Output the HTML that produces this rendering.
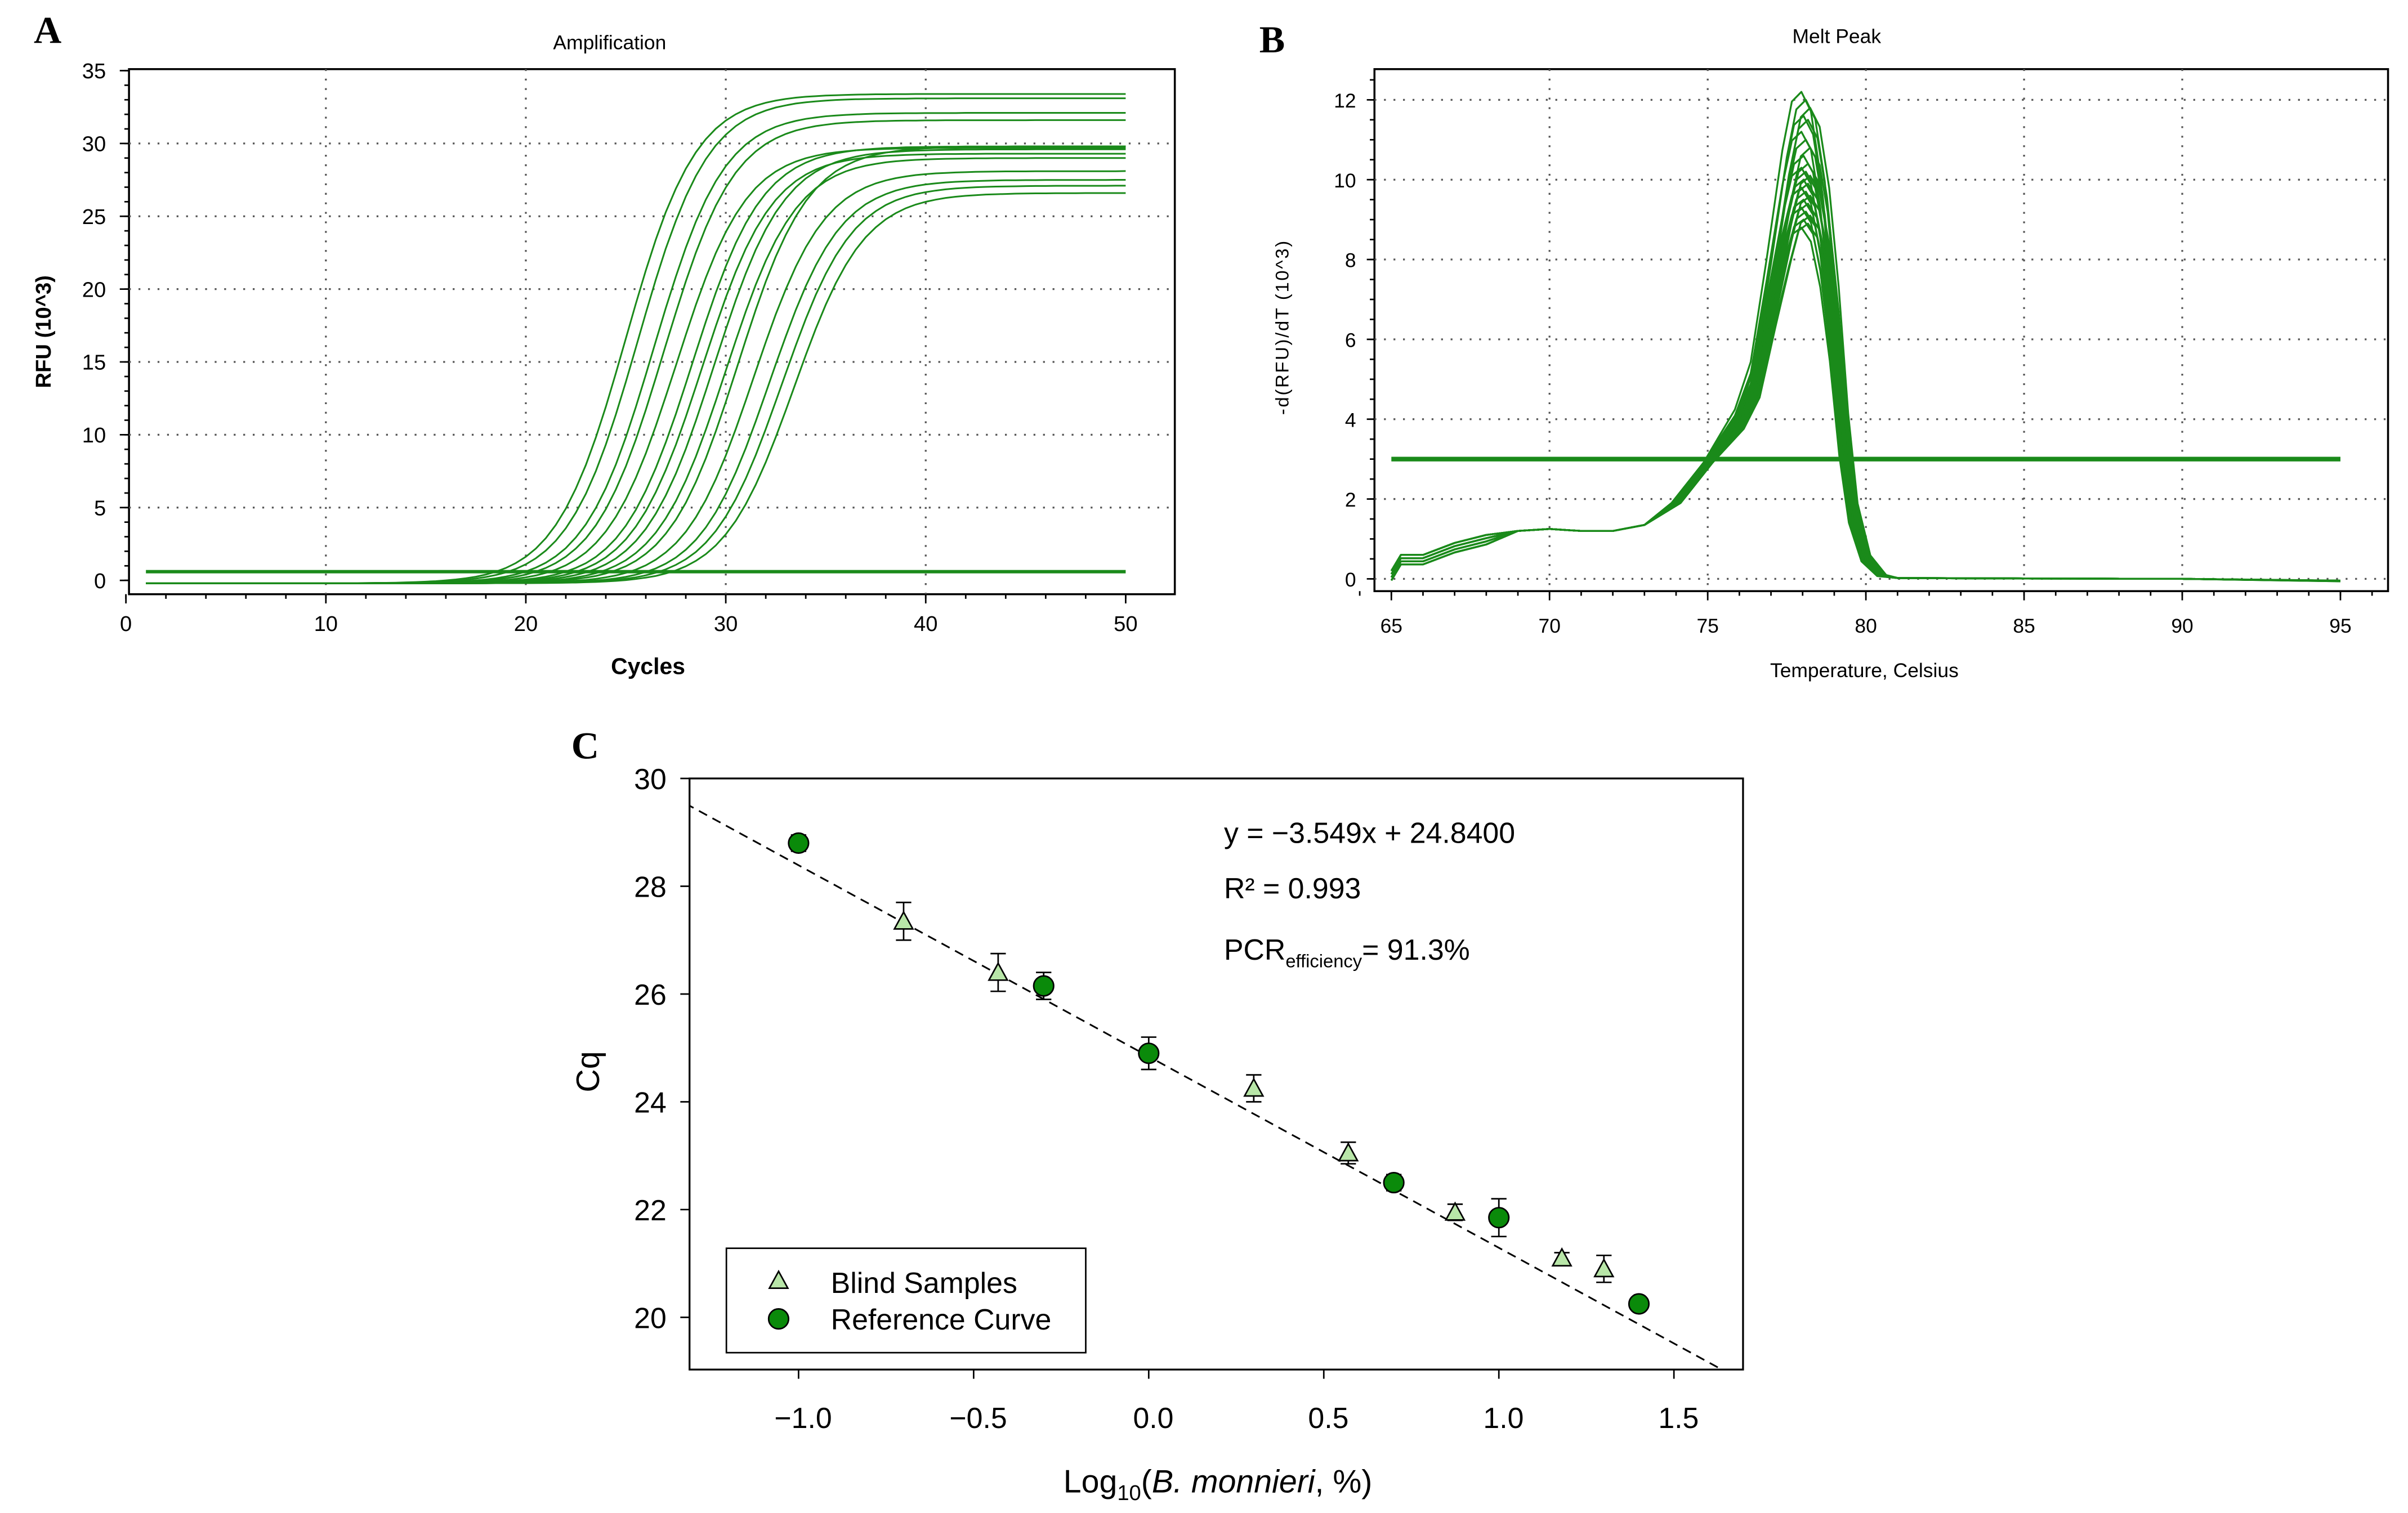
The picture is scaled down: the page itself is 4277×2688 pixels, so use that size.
<!DOCTYPE html>
<html><head><meta charset="utf-8"><style>html,body{margin:0;padding:0;background:#fff}svg{display:block}</style></head>
<body>
<svg id="fig" width="4277" height="2688" viewBox="0 0 1568 985.4" xmlns="http://www.w3.org/2000/svg" font-family="Liberation Sans, sans-serif">
<defs><clipPath id="cclip"><rect x="449" y="507" width="686" height="385"/></clipPath></defs>
<rect width="1568" height="985.4" fill="#fff"/>
<g id="pa"></g>
<g id="pb"></g>
<g id="pc"></g>
</svg>
<script>
// ---- Panel A data ----
const ampMid = [25.0,25.6,26.4,26.9,27.5,28.3,28.8,29.4,30.0,30.6,31.4,32.2,32.8,33.4];
const ampPlateau = [33.6,33.3,32.3,31.8,29.9,30.0,29.5,29.8,29.2,30.0,28.3,27.7,27.3,26.8];
const ampXTicks = [0,10,20,30,40,50];
const ampYTicks = [0,5,10,15,20,25,30,35];
// ---- Panel B data ----
const meltT = [65,65.3,66,67,68,69,70,71,72,73,74,75,76,76.5,77,77.5,77.8,78.1,78.4,78.7,79,79.3,79.6,80,80.5,81,85,90,95];
const meltBase = [0.2,0.6,0.6,0.9,1.1,1.2,1.25,1.2,1.2,1.35,1.9,2.9,3.9,4.8,6.8,8.8,9.8,10.0,9.6,8.3,6.2,3.5,1.6,0.5,0.08,0.02,0.01,0.0,-0.05];
const meltPeaks = [12.2,12.0,11.8,11.6,11.5,11.2,11.0,10.8,10.6,10.4,10.3,10.2,10.1,10.0,9.9,9.8,9.7,9.6,9.5,9.4,9.3,9.2,9.1,9.0,8.9,8.8];
const meltXTicks = [65,70,75,80,85,90,95];
const meltYTicks = [0,2,4,6,8,10,12];
const meltThreshold = 3;
// ---- Panel C data ----
const refX = [-1.0,-0.3,0.0,0.7,1.0,1.4];
const refY = [28.8,26.15,24.9,22.5,21.85,20.25];
const refErr = [0.15,0.25,0.3,0.15,0.35,0.1];
const blindX = [-0.7,-0.43,0.3,0.57,0.875,1.18,1.3];
const blindY = [27.35,26.4,24.25,23.05,21.95,21.1,20.9];
const blindErr = [0.35,0.35,0.25,0.2,0.15,0.1,0.25];
const fitSlope = -3.549, fitIntercept = 24.84;
const cXTicks = [-1.0,-0.5,0.0,0.5,1.0,1.5];
const cYTicks = [20,22,24,26,28,30];

const NS="http://www.w3.org/2000/svg";
function mk(parent,tag,attrs,text){const e=document.createElementNS(NS,tag);for(const k in attrs)e.setAttribute(k,attrs[k]);if(text!==undefined)e.textContent=text;parent.appendChild(e);return e;}
const G="#1a8a1a";

// ===== Panel A =====
(function(){
const g=document.getElementById('pa');
const X=v=>82+v*13.02, Y=v=>378-v*9.486;
mk(g,'rect',{x:84,y:45,width:681,height:342,fill:'none',stroke:'#000','stroke-width':1.3});
for(const t of ampXTicks){ if(t>0&&t<50){const l=mk(g,'line',{x1:X(t),x2:X(t),y1:45,y2:387,stroke:'#555','stroke-dasharray':'1.2 5','stroke-width':1.2});}
 const tx=mk(g,'text',{x:X(t),y:411,'font-size':14,'text-anchor':'middle'},t);
 mk(g,'line',{x1:X(t),x2:X(t),y1:387,y2:393,stroke:'#000'});}
for(let t=0;t<=50;t+=2) mk(g,'line',{x1:X(t),x2:X(t),y1:387,y2:390,stroke:'#000'});
for(const t of ampYTicks){ if(t>0&&t<35){const l=mk(g,'line',{x1:84,x2:765,y1:Y(t),y2:Y(t),stroke:'#555','stroke-dasharray':'1.2 5','stroke-width':1.2});}
 const tx=mk(g,'text',{x:69,y:Y(t)+5,'font-size':14,'text-anchor':'end'},t);
 mk(g,'line',{x1:78,x2:84,y1:Y(t),y2:Y(t),stroke:'#000'});}
for(let t=0;t<=35;t+=1) mk(g,'line',{x1:81,x2:84,y1:Y(t),y2:Y(t),stroke:'#000'});
for(let i=0;i<ampMid.length;i++){let d='';for(let c=1;c<=50;c+=0.5){const v=ampPlateau[i]/(1+Math.exp(-(c-ampMid[i])/1.75))-0.2;d+=(c===1?'M':'L')+X(c).toFixed(1)+','+Y(v).toFixed(1);}
 const p=mk(g,'path',{d:d,fill:'none',stroke:G,'stroke-width':1.1});}
const th=mk(g,'line',{x1:X(1),x2:X(50),y1:Y(0.6),y2:Y(0.6),stroke:G,'stroke-width':2.2});
const t1=mk(g,'text',{x:397,y:32,'font-size':13,'text-anchor':'middle'},'Amplification');
const t2=mk(g,'text',{x:422,y:439,'font-size':15,'font-weight':'bold','text-anchor':'middle'},'Cycles');
const t3=mk(g,'text',{transform:'translate(33,216) rotate(-90)','font-size':14,'font-weight':'bold','text-anchor':'middle'},'RFU (10^3)');
const t4=mk(g,'text',{x:22,y:28,'font-size':25,'font-weight':'bold','font-family':'Liberation Serif, serif'},'A');
})();

// ===== Panel B =====
(function(){
const g=document.getElementById('pb');
const X=v=>906+(v-65)*20.6, Y=v=>377-v*26;
mk(g,'rect',{x:895,y:45,width:660,height:340,fill:'none',stroke:'#000','stroke-width':1.3});
for(const t of meltXTicks){ if(t>65&&t<95){const l=mk(g,'line',{x1:X(t),x2:X(t),y1:45,y2:385,stroke:'#555','stroke-dasharray':'1.2 5','stroke-width':1.2});}
 const tx=mk(g,'text',{x:X(t),y:412,'font-size':13,'text-anchor':'middle'},t);
 mk(g,'line',{x1:X(t),x2:X(t),y1:385,y2:391,stroke:'#000'});}
for(let t=64;t<=96;t+=1) mk(g,'line',{x1:X(t),x2:X(t),y1:385,y2:388,stroke:'#000'});
for(const t of meltYTicks){ if(t>0){const l=mk(g,'line',{x1:895,x2:1555,y1:Y(t),y2:Y(t),stroke:'#555','stroke-dasharray':'1.2 5','stroke-width':1.2});}
 else mk(g,'line',{x1:895,x2:1555,y1:Y(0),y2:Y(0),stroke:'#555','stroke-dasharray':'1.2 5','stroke-width':1.2});
 const tx=mk(g,'text',{x:883,y:Y(t)+5,'font-size':13,'text-anchor':'end'},t);
 mk(g,'line',{x1:890,x2:895,y1:Y(t),y2:Y(t),stroke:'#000'});}
for(let t=0;t<=12.6;t+=0.5) mk(g,'line',{x1:892,x2:895,y1:Y(t),y2:Y(t),stroke:'#000'});
for(let i=0;i<meltPeaks.length;i++){const s=meltPeaks[i]/10, sh=((i*7)%5-2)*0.07, lo=(i%4)*0.08;let d='';
 for(let j=0;j<meltT.length;j++){const b=meltBase[j];const w=Math.max(0,Math.min(1,(meltT[j]-75)/2.5));const v=(b*(1-w)+b*s*w)-(meltT[j]<69?lo:0);d+=(j?'L':'M')+X(meltT[j]+sh*(meltT[j]>73&&meltT[j]<81?1:0)).toFixed(1)+','+Y(v).toFixed(1);}
 const p=mk(g,'path',{d:d,fill:'none',stroke:G,'stroke-width':1.2,'stroke-linejoin':'round'});}
const th=mk(g,'line',{x1:X(65),x2:X(95),y1:Y(meltThreshold),y2:Y(meltThreshold),stroke:G,'stroke-width':3});
const t1=mk(g,'text',{x:1196,y:28,'font-size':13,'text-anchor':'middle'},'Melt Peak');
const t2=mk(g,'text',{x:1214,y:441,'font-size':13,'text-anchor':'middle'},'Temperature, Celsius');
const t3=mk(g,'text',{transform:'translate(839,213) rotate(-90)','font-size':12,'text-anchor':'middle','letter-spacing':'1'},'-d(RFU)/dT (10^3)');
const t4=mk(g,'text',{x:820,y:34,'font-size':25,'font-weight':'bold','font-family':'Liberation Serif, serif'},'B');
})();

// ===== Panel C =====
(function(){
const g=document.getElementById('pc');
const X=v=>748+v*228, Y=v=>858-(v-20)*35.1;
mk(g,'rect',{x:449,y:507,width:686,height:385,fill:'none',stroke:'#000','stroke-width':1.2});
for(const t of cXTicks){mk(g,'line',{x1:X(t),x2:X(t),y1:892,y2:898,stroke:'#000'});
 const tx=mk(g,'text',{x:X(t)+3,y:930,'font-size':19,'text-anchor':'middle'},t.toFixed(1).replace('-','\u2212'));}
for(const t of cYTicks){mk(g,'line',{x1:443,x2:449,y1:Y(t),y2:Y(t),stroke:'#000'});
 const tx=mk(g,'text',{x:434,y:Y(t)+7,'font-size':19,'text-anchor':'end'},t);}
const x0=-1.4,x1=1.8;
const fl=mk(g,'line',{x1:X(x0),y1:Y(fitSlope*x0+fitIntercept),x2:X(x1),y2:Y(fitSlope*x1+fitIntercept),stroke:'#000','stroke-width':1.1,'stroke-dasharray':'6 4','clip-path':'url(#cclip)'});
function eb(x,y,e){mk(g,'line',{x1:X(x),x2:X(x),y1:Y(y-e),y2:Y(y+e),stroke:'#000'});mk(g,'line',{x1:X(x)-5,x2:X(x)+5,y1:Y(y-e),y2:Y(y-e),stroke:'#000'});mk(g,'line',{x1:X(x)-5,x2:X(x)+5,y1:Y(y+e),y2:Y(y+e),stroke:'#000'});}
for(let i=0;i<blindX.length;i++){eb(blindX[i],blindY[i],blindErr[i]);const cx=X(blindX[i]),cy=Y(blindY[i]);
 const p=mk(g,'polygon',{points:`${cx},${cy-6} ${cx-6},${cy+5} ${cx+6},${cy+5}`,fill:'#b8e6a8',stroke:'#000','stroke-width':1});}
for(let i=0;i<refX.length;i++){eb(refX[i],refY[i],refErr[i]);
 const c=mk(g,'circle',{cx:X(refX[i]),cy:Y(refY[i]),r:6.5,fill:'#0a8a0a',stroke:'#000','stroke-width':1});}
const e1=mk(g,'text',{x:797,y:549,'font-size':19},'y = \u22123.549x + 24.8400');
const e2=mk(g,'text',{x:797,y:585,'font-size':19},'R\u00b2 = 0.993');
const e3=mk(g,'text',{x:797,y:625,'font-size':19});
mk(e3,'tspan',{},'PCR');mk(e3,'tspan',{'font-size':12,dy:5},'efficiency');mk(e3,'tspan',{dy:-5},'= 91.3%');
const lg=mk(g,'g',{});
mk(lg,'rect',{x:473,y:813,width:234,height:68,fill:'#fff',stroke:'#000','stroke-width':1});
const la=mk(lg,'g',{});
mk(la,'polygon',{points:'507,828 501,839 513,839',fill:'#b8e6a8',stroke:'#000'});
mk(la,'text',{x:541,y:842,'font-size':19},'Blind Samples');
const lb=mk(lg,'g',{});
mk(lb,'circle',{cx:507,cy:859,r:6.5,fill:'#0a8a0a',stroke:'#000'});
mk(lb,'text',{x:541,y:866,'font-size':19},'Reference Curve');
const xt=mk(g,'text',{x:793,y:972,'font-size':21,'text-anchor':'middle'});
mk(xt,'tspan',{},'Log');mk(xt,'tspan',{'font-size':14,dy:5},'10');mk(xt,'tspan',{dy:-5},'(');mk(xt,'tspan',{'font-style':'italic'},'B. monnieri');mk(xt,'tspan',{},', %)');
const yt=mk(g,'text',{transform:'translate(390,698) rotate(-90)','font-size':21,'text-anchor':'middle'},'Cq');
const pl=mk(g,'text',{x:372,y:494,'font-size':25,'font-weight':'bold','font-family':'Liberation Serif, serif'},'C');
})();
</script>
</body></html>
